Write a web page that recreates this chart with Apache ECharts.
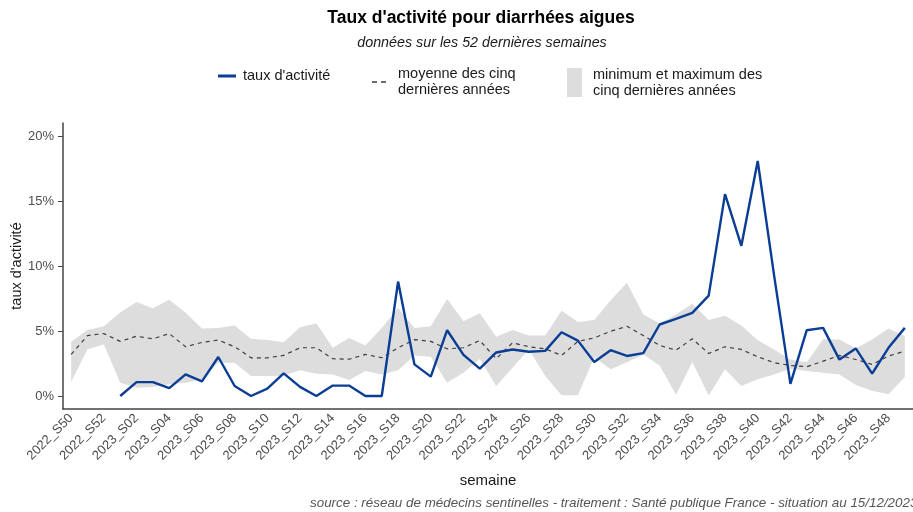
<!DOCTYPE html>
<html>
<head>
<meta charset="utf-8">
<script src="https://cdn.jsdelivr.net/npm/echarts@6/dist/echarts.min.js"></script>
<style>
  html, body { margin: 0; padding: 0; background: #fff; }
  #chart { width: 913px; height: 512px; }
</style>
</head>
<body>
<div id="chart"></div>
<script>
// semaines (52 dernières)
var weeks = [
  '2022_S50', '2022_S51', '2022_S52',
  '2023_S01', '2023_S02', '2023_S03', '2023_S04', '2023_S05', '2023_S06', '2023_S07', '2023_S08',
  '2023_S09', '2023_S10', '2023_S11', '2023_S12', '2023_S13', '2023_S14', '2023_S15', '2023_S16',
  '2023_S17', '2023_S18', '2023_S19', '2023_S20', '2023_S21', '2023_S22', '2023_S23', '2023_S24',
  '2023_S25', '2023_S26', '2023_S27', '2023_S28', '2023_S29', '2023_S30', '2023_S31', '2023_S32',
  '2023_S33', '2023_S34', '2023_S35', '2023_S36', '2023_S37', '2023_S38', '2023_S39', '2023_S40',
  '2023_S41', '2023_S42', '2023_S43', '2023_S44', '2023_S45', '2023_S46', '2023_S47', '2023_S48',
  '2023_S49'
];

// taux d'activité (%)
var taux = [
  null, null, null,
  0.0, 1.07, 1.07, 0.6, 1.66, 1.13, 3.0, 0.77,
  0.0, 0.57, 1.74, 0.7, 0.0, 0.8, 0.8, 0.0,
  0.0, 8.8, 2.43, 1.49, 5.06, 3.17, 2.1, 3.35,
  3.58, 3.4, 3.47, 4.9, 4.26, 2.62, 3.52, 3.08,
  3.3, 5.5, 5.93, 6.39, 7.72, 15.53, 11.55, 18.08,
  9.3, 0.93, 5.06, 5.24, 2.8, 3.66, 1.72, 3.71,
  5.24
];

// moyenne des cinq dernières années (%)
var moyenne = [
  3.2, 4.65, 4.8,
  4.2, 4.6, 4.4, 4.8, 3.79, 4.12, 4.3, 3.79,
  2.94, 2.94, 3.12, 3.71, 3.71, 2.87, 2.83, 3.2,
  2.94, 3.71, 4.34, 4.2, 3.63, 3.71, 4.27, 2.87,
  4.09, 3.79, 3.63, 3.12, 4.2, 4.47, 4.98, 5.36,
  4.65, 3.89, 3.53, 4.4, 3.27, 3.79, 3.58, 3.02,
  2.56, 2.35, 2.25, 2.68, 3.12, 2.81, 2.43, 3.07,
  3.45
];

// minimum des cinq dernières années (%)
var minimum = [
  1.07, 3.6, 3.96,
  1.02, 0.64, 0.7, 0.9, 1.02, 1.28, 2.56, 2.56,
  1.53, 1.53, 1.56, 1.98, 1.72, 1.66, 1.23, 1.92,
  1.66, 1.99, 3.12, 3.02, 1.02, 1.79, 2.85, 0.77,
  2.18, 3.58, 1.53, 0.05, 0.05, 2.98, 2.05, 2.6,
  3.2, 2.35, 0.1, 2.62, 0.03, 2.05, 0.77, 1.28,
  1.66, 2.1, 1.92, 1.79, 1.66, 0.85, 0.4, 0.13,
  1.47
];

// maximum des cinq dernières années (%)
var maximum = [
  4.17, 5.08, 5.36,
  6.42, 7.24, 6.75, 7.41, 6.4, 5.2, 5.24, 5.42,
  4.4, 4.3, 4.14, 5.28, 5.6, 3.71, 4.47, 3.89,
  5.24, 6.77, 5.24, 5.36, 7.46, 5.75, 6.36, 4.55,
  5.08, 4.65, 4.65, 6.55, 5.7, 5.85, 7.35, 8.72,
  6.26, 5.6, 6.26, 7.1, 5.85, 6.18, 5.43, 4.28,
  3.58, 2.8, 2.6, 4.37, 4.34, 3.65, 4.35, 5.2,
  4.62
];

var yTicks = [0, 5, 10, 15, 20];

var NAME_TAUX = "taux d'activité";
var NAME_MOY = 'moyenne des cinq dernières années';
var NAME_MINMAX = 'minimum et maximum des cinq dernières années';

// hauteur de la bande = max - min (empilée sur le min)
var ecart = maximum.map(function (v, i) { return v - minimum[i]; });

var chart = echarts.init(document.getElementById('chart'));

var legendText = { color: '#1a1a1a', fontSize: 14.5, lineHeight: 16, fontFamily: 'Liberation Sans, Arial, sans-serif' };

var option = {
  animation: false,
  textStyle: { fontFamily: 'Liberation Sans, Arial, sans-serif' },
  graphic: [
    {
      type: 'text', x: 481, y: 18, z: 10,
      style: {
        text: "Taux d'activité pour diarrhées aigues",
        textAlign: 'center', textVerticalAlign: 'middle',
        font: 'bold 17.5px "Liberation Sans", Arial, sans-serif', fill: '#000'
      }
    },
    {
      type: 'text', x: 482, y: 43, z: 10,
      style: {
        text: 'données sur les 52 dernières semaines',
        textAlign: 'center', textVerticalAlign: 'middle',
        font: 'italic 14.3px "Liberation Sans", Arial, sans-serif', fill: '#1a1a1a'
      }
    },
    {
      type: 'text', x: 310, y: 503, z: 10,
      style: {
        text: 'source : réseau de médecins sentinelles - traitement : Santé publique France - situation au 15/12/2023',
        textAlign: 'left', textVerticalAlign: 'middle',
        font: 'italic 13.4px "Liberation Sans", Arial, sans-serif', fill: '#555'
      }
    }
  ],
  legend: [
    {
      left: 218, top: 68, padding: 0, selectedMode: false,
      itemWidth: 18, itemHeight: 3,
      itemStyle: { borderWidth: 0 },
      data: [{ name: NAME_TAUX, icon: 'rect', itemStyle: { color: '#0a3d94' } }],
      textStyle: Object.assign({ padding: [0, 0, 0, 2] }, legendText)
    },
    {
      left: 372, top: 66, padding: 0, selectedMode: false,
      itemWidth: 14, itemHeight: 1.5, symbolKeepAspect: false,
      itemStyle: { borderWidth: 0 },
      data: [{ name: NAME_MOY, icon: 'path://M0,0h5v1.5H0zM9,0h5v1.5H9z', itemStyle: { color: '#3d3d3d' } }],
      formatter: function () { return 'moyenne des cinq\ndernières années'; },
      textStyle: Object.assign({ padding: [0, 0, 0, 7] }, legendText)
    },
    {
      left: 567, top: 66.5, padding: 0, selectedMode: false,
      itemWidth: 15, itemHeight: 29,
      itemStyle: { borderWidth: 0 },
      data: [{ name: NAME_MINMAX, icon: 'rect', itemStyle: { color: '#dddddd' } }],
      formatter: function () { return 'minimum et maximum des\ncinq dernières années'; },
      textStyle: Object.assign({ padding: [0, 0, 0, 6] }, legendText)
    }
  ],
  grid: { left: 63, top: 123, width: 850, height: 286, containLabel: false, outerBoundsMode: 'none' },
  xAxis: {
    type: 'category',
    data: weeks,
    boundaryGap: true,
    name: 'semaine',
    nameLocation: 'middle',
    nameGap: 64,
    nameMoveOverlap: false,
    nameTextStyle: { color: '#1a1a1a', fontSize: 15 },
    axisLine: { onZero: false, lineStyle: { color: '#444', width: 1.5 } },
    axisTick: { interval: 1, alignWithLabel: true, length: 5, lineStyle: { color: '#444', width: 1 } },
    axisLabel: { interval: 1, rotate: 45, color: '#4d4d4d', fontSize: 13, margin: 7 },
    splitLine: { show: false }
  },
  yAxis: {
    type: 'value',
    min: -1,
    max: 21,
    name: "taux d'activité",
    nameLocation: 'middle',
    nameGap: 39,
    nameMoveOverlap: false,
    nameTextStyle: { color: '#1a1a1a', fontSize: 14.5 },
    axisLine: { show: true, lineStyle: { color: '#444', width: 1.5 } },
    axisTick: { show: true, customValues: yTicks, length: 5, lineStyle: { color: '#444', width: 1 } },
    axisLabel: { customValues: yTicks, formatter: '{value}%', color: '#4d4d4d', fontSize: 13, margin: 9 },
    splitLine: { show: false }
  },
  series: [
    {
      name: 'min',
      type: 'line',
      stack: 'bande',
      data: minimum,
      symbol: 'none',
      silent: true,
      lineStyle: { opacity: 0, width: 0 },
      z: 1
    },
    {
      name: NAME_MINMAX,
      type: 'line',
      stack: 'bande',
      data: ecart,
      symbol: 'none',
      silent: true,
      itemStyle: { color: '#dddddd' },
      lineStyle: { opacity: 0, width: 0 },
      areaStyle: { color: '#dddddd', opacity: 1 },
      z: 1
    },
    {
      name: NAME_MOY,
      type: 'line',
      data: moyenne,
      symbol: 'none',
      itemStyle: { color: '#3d3d3d' },
      lineStyle: { color: '#3d3d3d', width: 1.2, type: [4, 4] },
      z: 2
    },
    {
      name: NAME_TAUX,
      type: 'line',
      data: taux,
      symbol: 'none',
      itemStyle: { color: '#0a3d94' },
      lineStyle: { color: '#0a3d94', width: 2.4 },
      z: 3
    }
  ]
};

chart.setOption(option);
</script>
</body>
</html>
